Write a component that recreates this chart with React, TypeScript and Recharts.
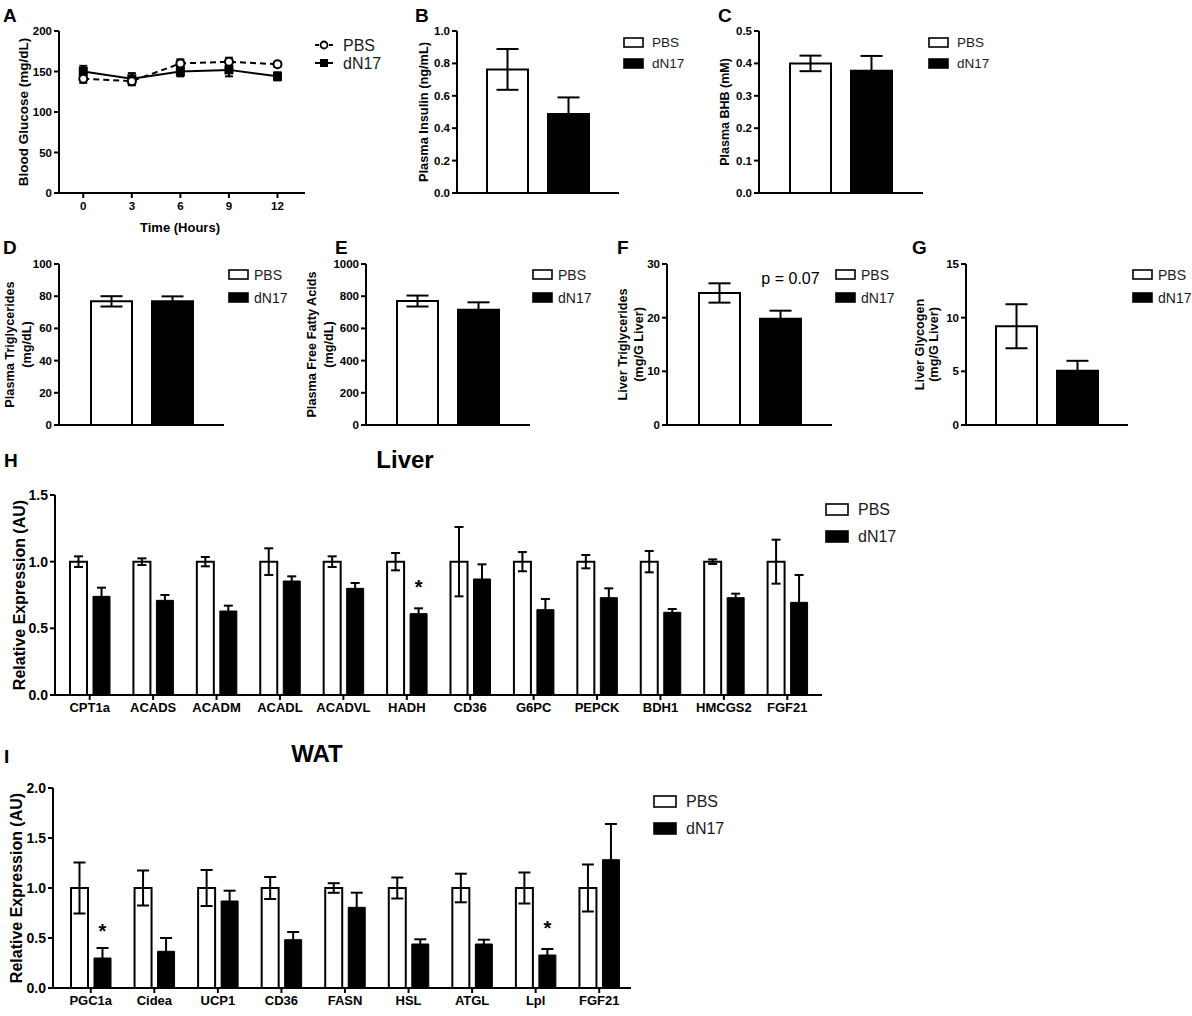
import React from "react";
import {
  Bar,
  BarChart,
  ErrorBar,
  LabelList,
  Legend,
  Line,
  LineChart,
  XAxis,
  YAxis,
} from "recharts";

const FONT = "'Liberation Sans', Arial, Helvetica, sans-serif";
const groups = ["PBS", "dN17"];

// A: blood glucose over time
const hours = [0, 3, 6, 9, 12];
const glucosePbs = [141, 138, 160, 162, 159];
const glucosePbsErr = [5, 5, 5, 5, 3];
const glucoseDn17 = [150, 141, 150, 152, 144];
const glucoseDn17Err = [7, 7, 6, 8, 5];
const glucoseTicks = [0, 50, 100, 150, 200];

// B-G: plasma / liver measurements, [PBS, dN17]
const insulin = [0.763, 0.487];
const insulinErr = [0.126, 0.103];
const insulinTicks = [0, 0.2, 0.4, 0.6, 0.8, 1.0];

const bhb = [0.4, 0.377];
const bhbErr = [0.024, 0.046];
const bhbTicks = [0, 0.1, 0.2, 0.3, 0.4, 0.5];

const plasmaTg = [76.8, 76.8];
const plasmaTgErr = [3.2, 3.1];
const plasmaTgTicks = [0, 20, 40, 60, 80, 100];

const ffa = [770, 716];
const ffaErr = [34, 46];
const ffaTicks = [0, 200, 400, 600, 800, 1000];

const liverTg = [24.6, 19.8];
const liverTgErr = [1.8, 1.5];
const liverTgTicks = [0, 10, 20, 30];

const glycogen = [9.2, 5.05];
const glycogenErr = [2.05, 0.93];
const glycogenTicks = [0, 5, 10, 15];

// H: liver gene expression
const liverGenes = ["CPT1a", "ACADS", "ACADM", "ACADL", "ACADVL", "HADH", "CD36", "G6PC", "PEPCK", "BDH1", "HMCGS2", "FGF21"];
const liverPbs = [1, 1, 1, 1, 1, 1, 1, 1, 1, 1, 1, 1];
const liverPbsErr = [0.04, 0.025, 0.035, 0.1, 0.04, 0.065, 0.26, 0.072, 0.05, 0.08, 0.017, 0.165];
const liverDn17 = [0.74, 0.71, 0.63, 0.855, 0.8, 0.61, 0.87, 0.64, 0.73, 0.62, 0.73, 0.695];
const liverDn17Err = [0.065, 0.04, 0.04, 0.035, 0.04, 0.04, 0.11, 0.08, 0.07, 0.025, 0.03, 0.205];
const liverSig = ["", "", "", "", "", "*", "", "", "", "", "", ""];
const liverTicks = [0, 0.5, 1.0, 1.5];

// I: WAT gene expression
const watGenes = ["PGC1a", "Cidea", "UCP1", "CD36", "FASN", "HSL", "ATGL", "Lpl", "FGF21"];
const watPbs = [1, 1, 1, 1, 1, 1, 1, 1, 1];
const watPbsErr = [0.255, 0.175, 0.18, 0.11, 0.048, 0.105, 0.143, 0.155, 0.235];
const watDn17 = [0.3, 0.367, 0.87, 0.483, 0.807, 0.44, 0.44, 0.33, 1.283];
const watDn17Err = [0.1, 0.133, 0.103, 0.077, 0.146, 0.047, 0.043, 0.06, 0.357];
const watSig = ["*", "", "", "", "", "", "", "*", ""];
const watTicks = [0, 0.5, 1.0, 1.5, 2.0];

const glucoseRows = hours.map((h, i) => ({
  h,
  pbs: glucosePbs[i],
  pbsErr: glucosePbsErr[i],
  dn17: glucoseDn17[i],
  dn17Err: glucoseDn17Err[i],
}));

const geneRows = (genes: string[], pbs: number[], pbsErr: number[], dn: number[], dnErr: number[], sig: string[]) =>
  genes.map((g, i) => ({ gene: g, pbs: pbs[i], pbsErr: pbsErr[i], dn17: dn[i], dn17Err: dnErr[i], sig: sig[i] }));

const AXIS = { stroke: "#000", strokeWidth: 2 };
const tickStyle = (size: number) => ({ fontSize: size, fontWeight: 700, fill: "#000", fontFamily: FONT });

type Box = { left: number; top: number; width: number; height: number };
type Plot = { x: number; top: number; right: number; bottom: number };

function BoxLegend({ w, h, gap, font, dx }: { w: number; h: number; gap: number; font: number; dx: number }) {
  return (
    <svg width={w + dx + 44} height={gap * 2} style={{ display: "block", overflow: "visible" }}>
      {groups.map((g, i) => {
        const cy = gap * (i + 0.5);
        return (
          <g key={g}>
            <rect x={1} y={cy - h / 2} width={w} height={h} fill={i ? "#000" : "#fff"} stroke="#000" strokeWidth={1.6} />
            <text x={w + dx} y={cy} dominantBaseline="central" fontSize={font} fontFamily={FONT} fill="#1a1a1a">
              {g}
            </text>
          </g>
        );
      })}
    </svg>
  );
}

function LineLegend() {
  return (
    <svg width={80} height={36} style={{ display: "block", overflow: "visible" }}>
      <line x1={0} y1={9} x2={18} y2={9} stroke="#000" strokeWidth={2} strokeDasharray="4 3" />
      <circle cx={9} cy={9} r={3.5} fill="#fff" stroke="#000" strokeWidth={1.8} />
      <text x={28} y={9} dominantBaseline="central" fontSize={16} fontFamily={FONT} fill="#1a1a1a">PBS</text>
      <line x1={0} y1={27} x2={18} y2={27} stroke="#000" strokeWidth={2} />
      <rect x={5} y={23} width={8} height={8} fill="#000" />
      <text x={28} y={27} dominantBaseline="central" fontSize={16} fontFamily={FONT} fill="#1a1a1a">dN17</text>
    </svg>
  );
}

// annotation above the dN17 bar, drawn as one line of text
const noteLabel = (p: any) =>
  p.value ? (
    <text x={p.x + p.width / 2 + 10} y={p.y - 35} textAnchor="middle" fontSize={16} fontFamily={FONT} fill="#000">
      {p.value}
    </text>
  ) : null;

function PairPanel({
  box, plot, mean, err, ticks, digits, legendAt, legend, note,
}: {
  box: Box; plot: Plot; mean: number[]; err: number[]; ticks: number[]; digits: number;
  legendAt: { left: number; top: number };
  legend: { w: number; h: number; gap: number; font: number; dx: number };
  note?: string;
}) {
  const data = [{ name: "", pbs: mean[0], pbsErr: err[0], dn17: mean[1], dn17Err: err[1], note: note ?? "" }];
  return (
    <div style={{ position: "absolute", left: box.left, top: box.top }}>
      <BarChart
        width={box.width}
        height={box.height}
        data={data}
        margin={{ top: plot.top - box.top, right: box.left + box.width - plot.right, left: 0, bottom: 0 }}
        barSize={41}
        barGap={20}
      >
        <XAxis dataKey="name" height={box.top + box.height - plot.bottom} tick={false} tickLine={false} axisLine={AXIS} />
        <YAxis
          width={plot.x - box.left}
          domain={[0, ticks[ticks.length - 1]]}
          ticks={ticks}
          interval={0}
          tickFormatter={(v: number) => v.toFixed(digits)}
          tick={tickStyle(11.5)}
          tickSize={5}
          tickMargin={2}
          tickLine={AXIS}
          axisLine={AXIS}
        />
        <Legend
          layout="vertical"
          align="center"
          verticalAlign="middle"
          wrapperStyle={{ left: legendAt.left - box.left, top: legendAt.top - box.top, width: 70 }}
          content={() => <BoxLegend {...legend} />}
        />
        <Bar dataKey="pbs" name="PBS" fill="#fff" stroke="#000" strokeWidth={2} isAnimationActive={false}>
          <ErrorBar dataKey="pbsErr" width={11} stroke="#000" strokeWidth={2} />
        </Bar>
        <Bar dataKey="dn17" name="dN17" fill="#000" stroke="#000" strokeWidth={2} isAnimationActive={false}>
          <ErrorBar dataKey="dn17Err" width={11} stroke="#000" strokeWidth={2} />
          {note ? <LabelList dataKey="note" content={noteLabel} /> : null}
        </Bar>
      </BarChart>
    </div>
  );
}

function GenePanel({
  box, plot, rows, ticks, pad, legendAt, cap,
}: {
  box: Box; plot: Plot; rows: ReturnType<typeof geneRows>; ticks: number[];
  pad: { left: number; right: number }; legendAt: { left: number; top: number }; cap: number;
}) {
  return (
    <div style={{ position: "absolute", left: box.left, top: box.top }}>
      <BarChart
        width={box.width}
        height={box.height}
        data={rows}
        margin={{ top: plot.top - box.top, right: box.left + box.width - plot.right, left: 0, bottom: 0 }}
        barSize={17}
        barGap={6}
      >
        <XAxis
          dataKey="gene"
          height={box.top + box.height - plot.bottom}
          padding={pad}
          interval={0}
          tick={tickStyle(13)}
          tickSize={5}
          tickMargin={3}
          tickLine={AXIS}
          axisLine={AXIS}
        />
        <YAxis
          width={plot.x - box.left}
          domain={[0, ticks[ticks.length - 1]]}
          ticks={ticks}
          interval={0}
          tickFormatter={(v: number) => v.toFixed(1)}
          tick={tickStyle(14)}
          tickSize={5}
          tickMargin={2}
          tickLine={AXIS}
          axisLine={AXIS}
        />
        <Legend
          layout="vertical"
          align="center"
          verticalAlign="middle"
          wrapperStyle={{ left: legendAt.left - box.left, top: legendAt.top - box.top, width: 90 }}
          content={() => <BoxLegend w={22} h={11} gap={27} font={16} dx={11} />}
        />
        <Bar dataKey="pbs" name="PBS" fill="#fff" stroke="#000" strokeWidth={2} isAnimationActive={false}>
          <ErrorBar dataKey="pbsErr" width={cap} stroke="#000" strokeWidth={2} />
        </Bar>
        <Bar dataKey="dn17" name="dN17" fill="#000" stroke="#000" strokeWidth={1} isAnimationActive={false}>
          <ErrorBar dataKey="dn17Err" width={cap} stroke="#000" strokeWidth={2} />
          <LabelList dataKey="sig" position="top" offset={20} fill="#000" fontSize={20} fontWeight={700} fontFamily={FONT} />
        </Bar>
      </BarChart>
    </div>
  );
}

function GlucosePanel() {
  const box = { left: 0, top: 20, width: 400, height: 230 };
  return (
    <div style={{ position: "absolute", left: box.left, top: box.top }}>
      <LineChart width={box.width} height={box.height} data={glucoseRows} margin={{ top: 11, right: 95, left: 0, bottom: 0 }}>
        <XAxis
          type="number"
          dataKey="h"
          domain={[-1.5, 13.7]}
          ticks={hours}
          interval={0}
          height={57}
          tick={tickStyle(11.5)}
          tickSize={5}
          tickMargin={4}
          tickLine={AXIS}
          axisLine={AXIS}
        />
        <YAxis
          width={59}
          domain={[0, 200]}
          ticks={glucoseTicks}
          interval={0}
          tick={tickStyle(11.5)}
          tickSize={5}
          tickMargin={2}
          tickLine={AXIS}
          axisLine={AXIS}
        />
        <Legend
          layout="vertical"
          align="center"
          verticalAlign="middle"
          wrapperStyle={{ left: 315, top: 16, width: 80 }}
          content={() => <LineLegend />}
        />
        <Line
          dataKey="dn17"
          name="dN17"
          stroke="#000"
          strokeWidth={2}
          isAnimationActive={false}
          dot={(p: any) => <rect key={`s${p.index}`} x={p.cx - 4.5} y={p.cy - 4.5} width={9} height={9} fill="#000" />}
        >
          <ErrorBar dataKey="dn17Err" direction="y" width={4} stroke="#000" strokeWidth={2} />
        </Line>
        <Line
          dataKey="pbs"
          name="PBS"
          stroke="#000"
          strokeWidth={2}
          strokeDasharray="6 4"
          isAnimationActive={false}
          dot={(p: any) => <circle key={`c${p.index}`} cx={p.cx} cy={p.cy} r={4} fill="#fff" stroke="#000" strokeWidth={2} />}
        >
          <ErrorBar dataKey="pbsErr" direction="y" width={4} stroke="#000" strokeWidth={2} />
        </Line>
      </LineChart>
    </div>
  );
}

const boxLegendSmall = { w: 19, h: 9, gap: 21, font: 13.5, dx: 10 };
const boxLegendMid = { w: 19, h: 9, gap: 23, font: 14, dx: 7 };

type Txt = { t: string; x: number; y: number; size: number; bold?: boolean; rot?: boolean; anchor?: string };

const overlayText: Txt[] = [
  { t: "A", x: 3, y: 22, size: 19, bold: true, anchor: "start" },
  { t: "B", x: 415, y: 22, size: 19, bold: true, anchor: "start" },
  { t: "C", x: 718, y: 22, size: 19, bold: true, anchor: "start" },
  { t: "D", x: 3, y: 254, size: 19, bold: true, anchor: "start" },
  { t: "E", x: 335, y: 254, size: 19, bold: true, anchor: "start" },
  { t: "F", x: 617, y: 254, size: 19, bold: true, anchor: "start" },
  { t: "G", x: 912, y: 254, size: 19, bold: true, anchor: "start" },
  { t: "H", x: 4, y: 467, size: 19, bold: true, anchor: "start" },
  { t: "I", x: 4, y: 763, size: 19, bold: true, anchor: "start" },
  { t: "Liver", x: 405, y: 468, size: 24, bold: true },
  { t: "WAT", x: 317, y: 762, size: 24, bold: true },
  { t: "Time (Hours)", x: 180, y: 232, size: 13, bold: true },
  { t: "Blood Glucose (mg/dL)", x: 23, y: 112, size: 13.5, bold: true, rot: true },
  { t: "Plasma Insulin (ng/mL)", x: 423, y: 112, size: 12.8, bold: true, rot: true },
  { t: "Plasma BHB (mM)", x: 725, y: 112, size: 12.5, bold: true, rot: true },
  { t: "Plasma Triglycerides", x: 10, y: 344.5, size: 12.7, bold: true, rot: true },
  { t: "(mg/dL)", x: 27, y: 344.5, size: 12.7, bold: true, rot: true },
  { t: "Plasma Free Fatty Acids", x: 312, y: 344.5, size: 12.7, bold: true, rot: true },
  { t: "(mg/dL)", x: 329, y: 344.5, size: 12.7, bold: true, rot: true },
  { t: "Liver Triglycerides", x: 623, y: 344.5, size: 12.7, bold: true, rot: true },
  { t: "(mg/G Liver)", x: 639, y: 344.5, size: 12.7, bold: true, rot: true },
  { t: "Liver Glycogen", x: 920, y: 344.5, size: 12.7, bold: true, rot: true },
  { t: "(mg/G Liver)", x: 934, y: 344.5, size: 12.7, bold: true, rot: true },
  { t: "Relative Expression (AU)", x: 19, y: 595, size: 16, bold: true, rot: true },
  { t: "Relative Expression (AU)", x: 16, y: 888, size: 16, bold: true, rot: true },
];

export default function App() {
  return (
    <div style={{ position: "absolute", left: 0, top: 0, width: 1192, height: 1016, background: "#fff", fontFamily: FONT, overflow: "hidden" }}>
      <GlucosePanel />
      <PairPanel
        box={{ left: 400, top: 20, width: 300, height: 200 }}
        plot={{ x: 457, top: 31, right: 619, bottom: 193 }}
        mean={insulin} err={insulinErr} ticks={insulinTicks} digits={1}
        legendAt={{ left: 623, top: 31.5 }} legend={boxLegendSmall}
      />
      <PairPanel
        box={{ left: 700, top: 20, width: 492, height: 200 }}
        plot={{ x: 759, top: 31, right: 923, bottom: 193 }}
        mean={bhb} err={bhbErr} ticks={bhbTicks} digits={1}
        legendAt={{ left: 928, top: 31.5 }} legend={boxLegendSmall}
      />
      <PairPanel
        box={{ left: 0, top: 250, width: 300, height: 200 }}
        plot={{ x: 59, top: 264, right: 224, bottom: 425 }}
        mean={plasmaTg} err={plasmaTgErr} ticks={plasmaTgTicks} digits={0}
        legendAt={{ left: 228, top: 262.5 }} legend={boxLegendMid}
      />
      <PairPanel
        box={{ left: 300, top: 250, width: 300, height: 200 }}
        plot={{ x: 366, top: 264, right: 530, bottom: 425 }}
        mean={ffa} err={ffaErr} ticks={ffaTicks} digits={0}
        legendAt={{ left: 532, top: 262.5 }} legend={boxLegendMid}
      />
      <PairPanel
        box={{ left: 600, top: 250, width: 300, height: 200 }}
        plot={{ x: 667, top: 264, right: 832, bottom: 425 }}
        mean={liverTg} err={liverTgErr} ticks={liverTgTicks} digits={0}
        legendAt={{ left: 835, top: 262.5 }} legend={boxLegendMid}
        note="p = 0.07"
      />
      <PairPanel
        box={{ left: 900, top: 250, width: 292, height: 200 }}
        plot={{ x: 966, top: 264, right: 1128, bottom: 425 }}
        mean={glycogen} err={glycogenErr} ticks={glycogenTicks} digits={0}
        legendAt={{ left: 1132, top: 262.5 }} legend={boxLegendMid}
      />
      <GenePanel
        box={{ left: 0, top: 480, width: 1000, height: 250 }}
        plot={{ x: 55, top: 495, right: 822, bottom: 695 }}
        rows={geneRows(liverGenes, liverPbs, liverPbsErr, liverDn17, liverDn17Err, liverSig)}
        ticks={liverTicks}
        pad={{ left: 3, right: 3 }}
        legendAt={{ left: 825, top: 495.5 }}
        cap={4.5}
      />
      <GenePanel
        box={{ left: 0, top: 775, width: 800, height: 241 }}
        plot={{ x: 53, top: 788, right: 631, bottom: 988 }}
        rows={geneRows(watGenes, watPbs, watPbsErr, watDn17, watDn17Err, watSig)}
        ticks={watTicks}
        pad={{ left: 6, right: 0 }}
        legendAt={{ left: 653, top: 787.5 }}
        cap={6}
      />
      <svg width={1192} height={1016} style={{ position: "absolute", left: 0, top: 0, pointerEvents: "none" }}>
        {overlayText.map((o, i) => (
          <text
            key={i}
            x={o.rot ? 0 : o.x}
            y={o.rot ? 0 : o.y}
            transform={o.rot ? `translate(${o.x},${o.y}) rotate(-90)` : undefined}
            textAnchor={o.anchor ?? "middle"}
            dominantBaseline={o.rot ? "central" : "auto"}
            fontSize={o.size}
            fontWeight={o.bold ? 700 : 400}
            fontFamily={FONT}
            fill="#000"
          >
            {o.t}
          </text>
        ))}
      </svg>
    </div>
  );
}
